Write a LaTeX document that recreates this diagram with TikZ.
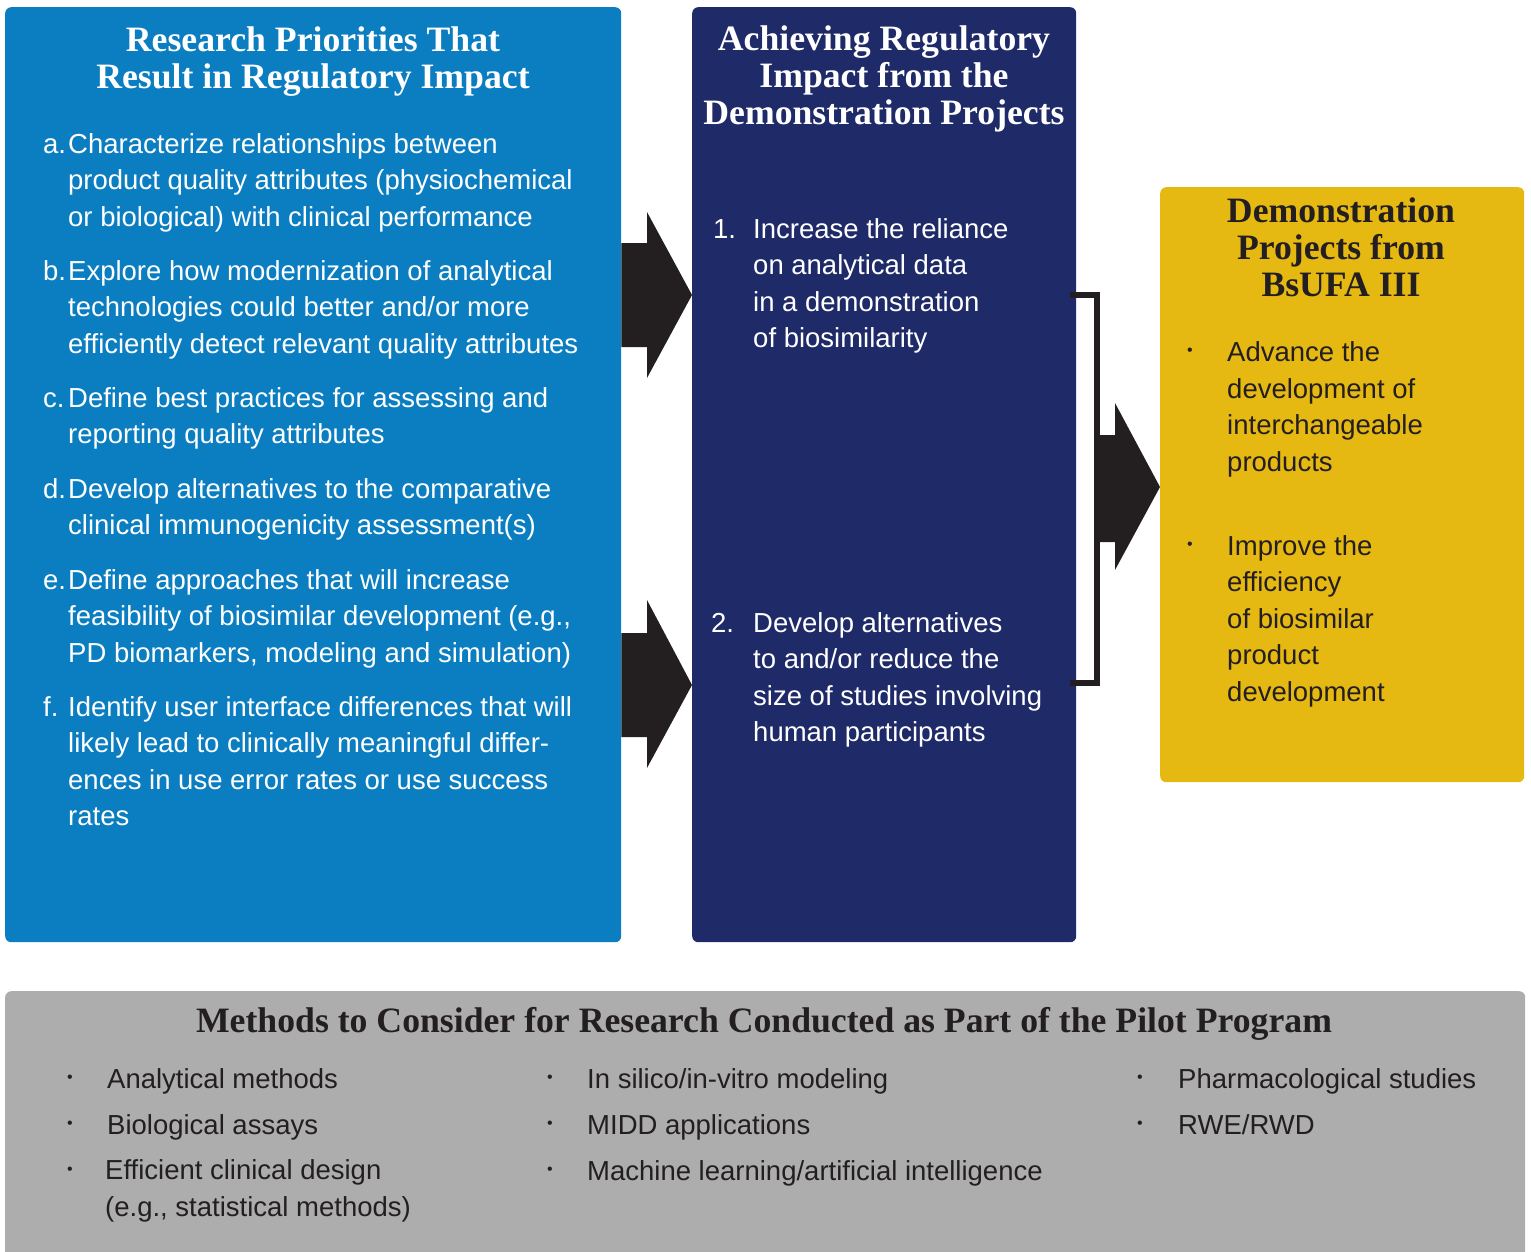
\documentclass[tikz,border=0pt]{standalone}
\usepackage{fontspec}
\setmainfont{Liberation Sans}
\newfontfamily\headfont{Liberation Serif}
\usetikzlibrary{positioning}
\definecolor{priblue}{HTML}{0A7EC1}
\definecolor{demonavy}{HTML}{1F2A68}
\definecolor{bsgold}{HTML}{E6B812}
\definecolor{methgray}{HTML}{ADADAD}
\definecolor{inkblack}{HTML}{231F20}
\tikzset{
  panel/.style={rounded corners=6pt, inner sep=0pt, anchor=north west},
  head/.style={font=\headfont\bfseries\fontsize{35.7}{36.8}\selectfont, align=center, anchor=base, inner sep=0pt},
  body/.style={font=\fontsize{27.5}{36.5}\selectfont, align=left, anchor=base west, inner sep=0pt},
  itemlabel/.style={font=\fontsize{27.5}{36.5}\selectfont, anchor=base west, inner sep=0pt},
  bulletdot/.style={font=\fontsize{16}{20}\selectfont, anchor=base, inner sep=0pt},
  blockarrow/.style={fill=inkblack}
}
\begin{document}
\begin{tikzpicture}[x=1pt,y=-1pt]
\useasboundingbox (0,0) rectangle (1531,1251);
% panels
\node[panel, fill=priblue, minimum width=616pt, minimum height=935pt] (prio) at (5,7) {};
\node[panel, fill=demonavy, minimum width=384pt, minimum height=935pt] (demo) at (692,7) {};
\node[panel, fill=bsgold, minimum width=364pt, minimum height=595pt] (bsufa) at (1160,187) {};
\node[panel, fill=methgray, minimum width=1520pt, minimum height=270pt] (meth) at (5,991) {};
% left panel (multi-line texts sit on their last line)
\node[head, text=white] (priohead) at (313,88) {Research Priorities That\\Result in Regulatory Impact};
\begin{scope}[text=white]
\node[itemlabel] (la) at (43,153) {a.};
\node[body] (ta) at (68,226) {Characterize relationships between\\product quality attributes (physiochemical\\or biological) with clinical performance};
\node[itemlabel] (lb) at (43,280) {b.};
\node[body] (tb) at (68,353) {Explore how modernization of analytical\\technologies could better and/or more\\efficiently detect relevant quality attributes};
\node[itemlabel] (lc) at (43,407) {c.};
\node[body] (tc) at (68,443.5) {Define best practices for assessing and\\reporting quality attributes};
\node[itemlabel] (ld) at (43,498) {d.};
\node[body] (td) at (68,534.5) {Develop alternatives to the comparative\\clinical immunogenicity assessment(s)};
\node[itemlabel] (le) at (43,589) {e.};
\node[body] (te) at (68,662) {Define approaches that will increase\\feasibility of biosimilar development (e.g.,\\PD biomarkers, modeling and simulation)};
\node[itemlabel] (lf) at (43,716) {f.};
\node[body] (tf) at (68,825.5) {Identify user interface differences that will\\likely lead to clinically meaningful differ-\\ences in use error rates or use success\\rates};
% middle panel
\node[head] (demohead) at (884,124) {Achieving Regulatory\\Impact from the\\Demonstration Projects};
\node[itemlabel] (l1) at (713,238) {1.};
\node[body] (t1) at (753,347.5) {Increase the reliance\\on analytical data\\in a demonstration\\of biosimilarity};
\node[itemlabel] (l2) at (711,632) {2.};
\node[body] (t2) at (753,741.5) {Develop alternatives\\to and/or reduce the\\size of studies involving\\human participants};
\end{scope}
% right panel
\begin{scope}[text=inkblack]
\node[head] (bshead) at (1341,296) {Demonstration\\Projects from\\BsUFA III};
\node[bulletdot] (d1) at (1190,355) {•};
\node[body] (tb1) at (1227,471) {Advance the\\development of\\interchangeable\\products};
\node[bulletdot] (d2) at (1190,549) {•};
\node[body] (tb2) at (1227,701) {Improve the\\efficiency\\of biosimilar\\product\\development};
% bottom panel
\node[head] (methhead) at (764,1032) {Methods to Consider for Research Conducted as Part of the Pilot Program};
\node[bulletdot] (m1) at (70,1082) {•};
\node[body] (tm1) at (107,1088) {Analytical methods};
\node[bulletdot] (m2) at (70,1128) {•};
\node[body] (tm2) at (107,1134) {Biological assays};
\node[bulletdot] (m3) at (70,1174) {•};
\node[body] (tm3) at (105,1216) {Efficient clinical design\\(e.g., statistical methods)};
\node[bulletdot] (m4) at (550,1082) {•};
\node[body] (tm4) at (587,1088) {In silico/in-vitro modeling};
\node[bulletdot] (m5) at (550,1128) {•};
\node[body] (tm5) at (587,1134) {MIDD applications};
\node[bulletdot] (m6) at (550,1174) {•};
\node[body] (tm6) at (587,1180) {Machine learning/artificial intelligence};
\node[bulletdot] (m7) at (1140,1082) {•};
\node[body] (tm7) at (1178,1088) {Pharmacological studies};
\node[bulletdot] (m8) at (1140,1128) {•};
\node[body] (tm8) at (1178,1134) {RWE/RWD};
\end{scope}
% arrows
\fill[blockarrow] (prio.east |- 0,243) -- (647,243) -- (647,212) -- (demo.west |- 0,295)
  -- (647,378) -- (647,347) -- (prio.east |- 0,347) -- cycle;
\fill[blockarrow] (prio.east |- 0,633) -- (647,633) -- (647,600) -- (demo.west |- 0,685)
  -- (647,768) -- (647,737) -- (prio.east |- 0,737) -- cycle;
% bracket
\draw[inkblack, line width=6.5pt] (1070,295) -- (1097,295) -- (1097,683) -- (1070,683);
\fill[blockarrow] (1097,435) -- (1115,435) -- (1115,403) -- (bsufa.west |- 0,487)
  -- (1115,570) -- (1115,542) -- (1097,542) -- cycle;
\end{tikzpicture}
\end{document}
